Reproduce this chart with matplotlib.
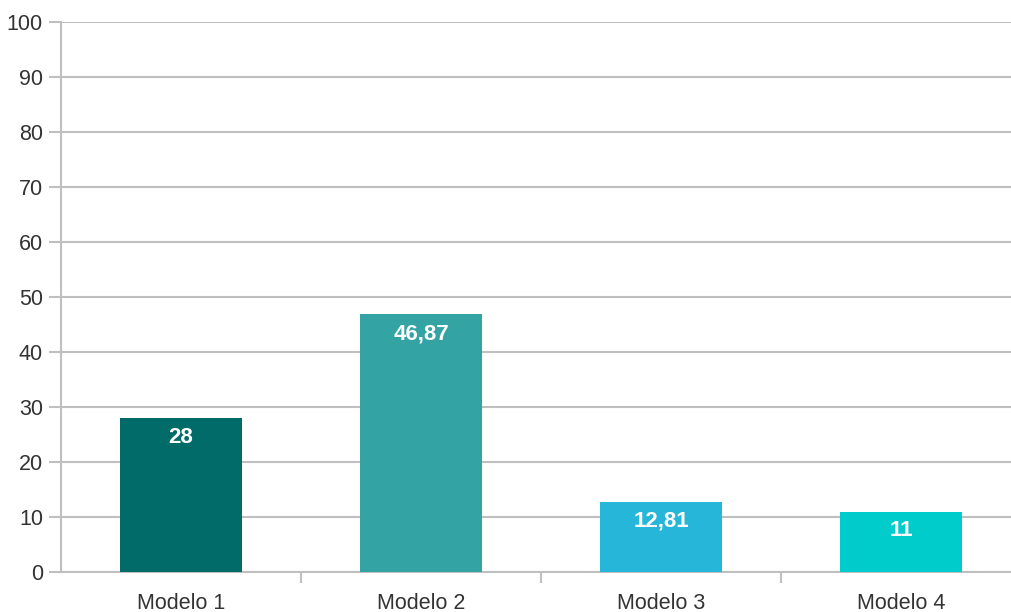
import matplotlib.pyplot as plt

categories = ['Modelo 1', 'Modelo 2', 'Modelo 3', 'Modelo 4']
values = [28, 46.87, 12.81, 11]
value_labels = ['28', '46,87', '12,81', '11']
colors = ['#006B68', '#33A3A3', '#25B6DA', '#00CCCC']
yticks = list(range(0, 101, 10))

plt.rcParams['font.family'] = ['Liberation Sans', 'DejaVu Sans']

fig = plt.figure(figsize=(10.11, 6.12), dpi=100)
# axes runs a bit past the right edge, as in the original
ax = fig.add_axes([61 / 1011, 1 - 572 / 612, 960 / 1011, 550 / 612])

grid_c = '#BFBFBF'
x = range(len(categories))
bars = ax.bar(x, values, width=0.51, color=colors, zorder=3)

for b, lab in zip(bars, value_labels):
    ax.text(b.get_x() + b.get_width() / 2, b.get_height() - 1.6, lab,
            ha='center', va='top', color='white', fontsize=16,
            fontweight='bold', zorder=4)

ax.set_xlim(-0.5, len(categories) - 0.5)
ax.set_ylim(0, 100)
ax.set_yticks(yticks)
ax.yaxis.grid(True, color=grid_c, linewidth=1.5, zorder=0)
ax.set_xticks([i + 0.5 for i in range(len(categories) - 1)])
ax.set_xticklabels([])
ax.set_xticks(list(x), minor=True)
ax.set_xticklabels(categories, minor=True)

ax.tick_params(axis='y', length=9, width=1.5, color=grid_c, labelsize=15.5,
               labelcolor='#333333', pad=4)
ax.tick_params(axis='x', which='major', length=8, width=1.5, color=grid_c)
ax.tick_params(axis='x', which='minor', length=0, labelsize=15.5,
               labelcolor='#333333', pad=15)

for s in ['top', 'right']:
    ax.spines[s].set_visible(False)
for s in ['left', 'bottom']:
    ax.spines[s].set_color(grid_c)
    ax.spines[s].set_linewidth(1.5)

fig.savefig('out.png', dpi=100)
